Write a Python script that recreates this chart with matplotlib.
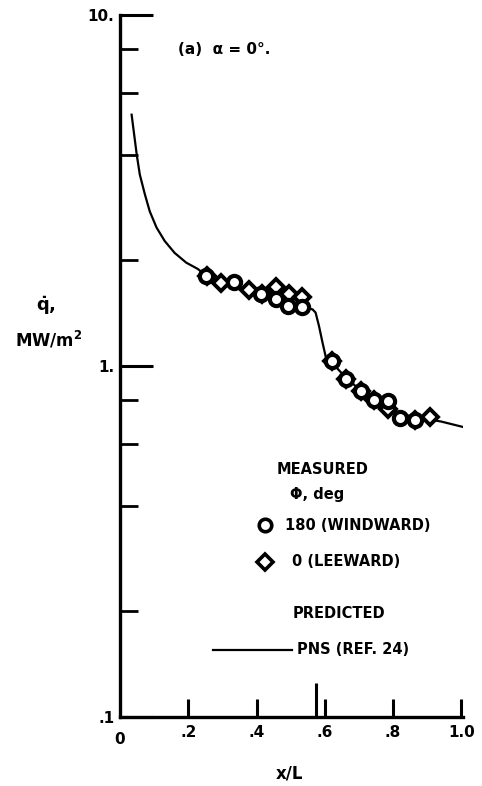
import matplotlib
matplotlib.use("Agg")
import matplotlib.pyplot as plt
from matplotlib.lines import Line2D
import matplotlib.transforms as mtransforms

# ---- data ----
curve_x = [0.034, 0.049, 0.058, 0.073, 0.087, 0.107, 0.131, 0.160, 0.194, 0.228,
           0.253, 0.30, 0.35, 0.40, 0.45, 0.50, 0.54, 0.564, 0.573, 0.583,
           0.593, 0.603, 0.622, 0.66, 0.70, 0.74, 0.78, 0.82, 0.86, 0.90,
           0.94, 1.006]
curve_y = [5.20, 4.00, 3.51, 3.08, 2.76, 2.48, 2.27, 2.10, 1.97, 1.89,
           1.805, 1.73, 1.67, 1.61, 1.56, 1.51, 1.47, 1.45, 1.42, 1.30,
           1.17, 1.06, 1.02, 0.93, 0.86, 0.80, 0.765, 0.735, 0.715, 0.705,
           0.695, 0.67]

windward_x = [0.253, 0.335, 0.413, 0.457, 0.492, 0.534, 0.622, 0.661, 0.705,
              0.743, 0.785, 0.821, 0.865]
windward_y = [1.80, 1.73, 1.60, 1.55, 1.48, 1.47, 1.03, 0.92, 0.85,
              0.80, 0.795, 0.71, 0.70]

leeward_x = [0.255, 0.296, 0.379, 0.415, 0.457, 0.496, 0.534, 0.622, 0.661,
             0.705, 0.743, 0.785, 0.865, 0.909]
leeward_y = [1.80, 1.72, 1.65, 1.60, 1.68, 1.60, 1.57, 1.03, 0.92,
             0.85, 0.80, 0.755, 0.70, 0.716]

x_ticks = [0.2, 0.4, 0.6, 0.8, 1.0]
x_ticklabels = [".2", ".4", ".6", ".8", "1.0"]
y_ticks = [0.1, 1, 10]
y_ticklabels = [".1", "1.", "10."]
y_minor = [0.2, 0.4, 0.6, 0.8, 2, 4, 6, 8]
junction_x = 0.573

plt.rcParams['font.family'] = ['DejaVu Sans']
plt.rcParams['font.weight'] = 'bold'

fig = plt.figure(figsize=(4.82, 7.86), dpi=100)
ax = fig.add_axes([0.249, 0.0878, 0.7116, 0.8931])

ax.set_yscale('log')
ax.set_xlim(0, 1.005)
ax.set_ylim(0.1, 10)

ax.plot(curve_x, curve_y, color='black', lw=1.6, zorder=2)
ax.plot(leeward_x, leeward_y, linestyle='none', marker='D', ms=8.5, mew=2.8,
        mfc='white', mec='black', zorder=3)
ax.plot(windward_x, windward_y, linestyle='none', marker='o', ms=9.5, mew=3.0,
        mfc='white', mec='black', zorder=4)

for s in ['top', 'right']:
    ax.spines[s].set_visible(False)
for s in ['left', 'bottom']:
    ax.spines[s].set_linewidth(2.4)

ax.set_xticks(x_ticks)
ax.set_xticklabels(x_ticklabels)
ax.set_yticks(y_ticks)
ax.set_yticklabels(y_ticklabels)
ax.set_yticks(y_minor, minor=True)
ax.set_yticklabels([], minor=True)
ax.xaxis.set_minor_locator(matplotlib.ticker.NullLocator())

ax.tick_params(axis='y', which='major', direction='in', length=24, width=2.2,
               labelsize=11, pad=4)
ax.tick_params(axis='y', which='minor', direction='in', length=13, width=2.0)
ax.tick_params(axis='x', which='major', direction='in', length=13, width=2.2,
               labelsize=11, pad=6)
for lab in ax.get_xticklabels() + ax.get_yticklabels():
    lab.set_fontweight('bold')

# x = 0 label
ax.text(0, -0.022, "0", transform=ax.transAxes, ha='center', va='top',
        fontsize=11, fontweight='bold')

# junction marker tick
trans = mtransforms.blended_transform_factory(ax.transData, ax.transAxes)
ax.plot([junction_x, junction_x], [0, 34 / 702], transform=trans,
        color='black', lw=2.2, clip_on=False, solid_capstyle='butt')

# axis labels
fig.text(290 / 482, 1 - 773 / 786, "x/L", ha='center', va='center',
         fontsize=12, fontweight='bold')
fig.text(46 / 482, 1 - 306 / 786, r"$\dot{\mathbf{q}}$,", ha='center',
         va='center', fontsize=13, fontweight='bold')
fig.text(49 / 482, 1 - 340 / 786, r"MW/m$^{\mathbf{2}}$", ha='center',
         va='center', fontsize=12, fontweight='bold')

# title in plot
fig.text(178 / 482, 1 - 50 / 786, "(a)  \u03b1 = 0\u00b0.", ha='left',
         va='center', fontsize=11, fontweight='bold')

# legend (hand-placed)
fs = 10.5
fig.text(277 / 482, 1 - 470 / 786, "MEASURED", ha='left', va='center',
         fontsize=fs, fontweight='bold')
fig.text(290 / 482, 1 - 495 / 786, "\u03a6, deg", ha='left', va='center',
         fontsize=fs, fontweight='bold')
fig.add_artist(Line2D([265 / 482], [1 - 525 / 786], marker='o', ms=9, mew=2.6,
                      mfc='white', mec='black', transform=fig.transFigure))
fig.text(285 / 482, 1 - 525 / 786, "180 (WINDWARD)", ha='left', va='center',
         fontsize=fs, fontweight='bold')
fig.add_artist(Line2D([265 / 482], [1 - 562 / 786], marker='D', ms=8, mew=2.6,
                      mfc='white', mec='black', transform=fig.transFigure))
fig.text(292 / 482, 1 - 562 / 786, "0 (LEEWARD)", ha='left', va='center',
         fontsize=fs, fontweight='bold')
fig.text(293 / 482, 1 - 613 / 786, "PREDICTED", ha='left', va='center',
         fontsize=fs, fontweight='bold')
fig.add_artist(Line2D([213 / 482, 292 / 482], [1 - 650 / 786, 1 - 650 / 786],
                      color='black', lw=1.6, transform=fig.transFigure))
fig.text(297 / 482, 1 - 650 / 786, "PNS (REF. 24)", ha='left', va='center',
         fontsize=fs, fontweight='bold')

fig.savefig("out.png", dpi=100, facecolor='white')
